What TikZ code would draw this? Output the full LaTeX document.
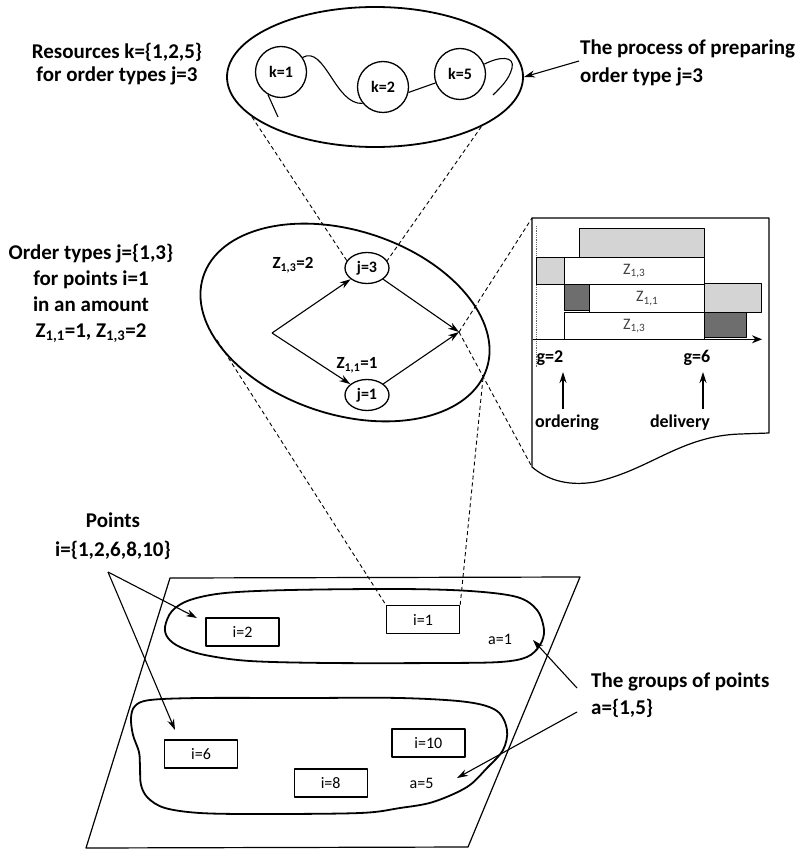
\documentclass[tikz,border=0pt]{standalone}
\usepackage{fontspec}
\setmainfont{Carlito}
\usetikzlibrary{arrows.meta,shapes.geometric}
\definecolor{lg}{HTML}{D4D4D4}
\definecolor{dg}{HTML}{6E6E6E}
\begin{document}
\begin{tikzpicture}[x=1pt,y=-1pt, line join=round,
  bigtxt/.style={font=\bfseries\fontsize{21}{23}\selectfont, inner sep=0pt},
  ktxt/.style={font=\bfseries\fontsize{16}{18}\selectfont},
  knode/.style={draw, circle, line width=1.3pt, minimum size=51pt, inner sep=0pt, ktxt},
  jnode/.style={draw, ellipse, line width=1.3pt, minimum width=44pt, minimum height=31pt, inner sep=0pt, ktxt},
  ztxt/.style={font=\bfseries\fontsize{17}{19}\selectfont, inner sep=0pt},
  ctxt/.style={font=\bfseries\fontsize{18}{20}\selectfont, inner sep=0pt},
  pbox/.style={draw, line width=1.4pt, minimum width=73pt, minimum height=28pt, inner sep=0pt, font=\fontsize{16}{18}\selectfont},
  atxt/.style={font=\fontsize{16}{18}\selectfont, inner sep=0pt},
  bar/.style={draw, line width=1.1pt, inner sep=0pt, anchor=north west, font=\fontsize{16}{18}\selectfont, text=black!75},
  thinl/.style={line width=1.1pt},
  blob/.style={line width=1.8pt},
  dsh/.style={line width=0.9pt, dash pattern=on 4pt off 3pt},
  arr/.style={line width=1.1pt, -{Stealth[length=11pt,width=7pt]}}]
\useasboundingbox (0,0) rectangle (806,850);

% ---------- top: resources ----------
\node[draw, ellipse, line width=1.8pt, minimum width=296pt, minimum height=140pt, inner sep=0pt] (top) at (375,77) {};
\node[knode] (k1) at (281,72) {k=1};
\node[knode] (k2) at (383,87) {k=2};
\node[knode] (k5) at (460,74) {k=5};
\coordinate (kend1) at (278,117);
\coordinate (kend5) at (493,95);
\draw[thinl] (k1.-120) -- (kend1);
\draw[thinl] (k1.34) .. controls (325,45) and (335,105) .. (k2.-141);
\draw[thinl] (k2.-12) -- (k5.-160);
\draw[thinl] (k5.22) .. controls (500,56) and (515,56) .. (512,68) .. controls (509,80) and (500,88) .. (kend5);

\node[bigtxt, align=center] (res) at (117,64) {Resources k=\{1,2,5\}\\for order types j=3};
\node[bigtxt, align=left, anchor=west, font=\bfseries\fontsize{21}{28}\selectfont] (proc) at (580,63) {The process of preparing\\order type j=3};
\coordinate (procA) at (579,61);
\draw[arr] (procA) -- (top.east);

% ---------- middle: order types ----------
\node[draw, ellipse, line width=1.8pt, minimum width=298pt, minimum height=184pt, inner sep=0pt, rotate=-18] (mid) at (345,322.5) {};
\node[jnode] (j3) at (367,268) {j=3};
\node[jnode] (j1) at (367,395) {j=1};
\coordinate (fork) at (272,333);
\coordinate (merge) at (459,332);
\draw[arr] (fork) -- (j3);
\draw[arr] (fork) -- (j1);
\draw[arr] (j3) -- (merge);
\draw[arr] (j1) -- (merge);
\node[ztxt] (z13) at (293,265) {Z\textsubscript{1,3}=2};
\node[ztxt] (z11) at (357,365) {Z\textsubscript{1,1}=1};

\node[bigtxt, align=center, font=\bfseries\fontsize{21}{26}\selectfont] (ord) at (91,293) {Order types j=\{1,3\}\\for points i=1\\in an amount\\Z\textsubscript{1,1}=1, Z\textsubscript{1,3}=2};

% dashed links top -> j3
\draw[dsh] (top.198) -- (j3.160);
\draw[dsh] (top.-25) -- (j3.20);

% ---------- chart ----------
\coordinate (cTL) at (532,218);
\coordinate (cTR) at (769,218);
\coordinate (cBR) at (769,433);
\coordinate (cBL) at (532,467);
\draw[line width=1.2pt] (cTL) -- (cTR) -- (cBR) -- (740,434) .. controls (680,436) and (650,470) .. (595,482) .. controls (565,487) and (545,478) .. (cBL) -- cycle;
\draw[dsh] (merge) -- (cTL);
\draw[dsh] (merge) -- (cBL);

\draw[densely dotted, line width=0.8pt, black!60] (536,226) -- (536,367);
\node[bar, fill=lg, minimum width=125.3pt, minimum height=28.2pt] (r1) at (578.7,228.3) {};
\node[bar, fill=lg, minimum width=27.5pt, minimum height=27.8pt] (r2a) at (536,256.5) {};
\node[bar, fill=white, minimum width=140.5pt, minimum height=27.8pt] (r2b) at (563.5,256.5) {Z\textsubscript{1,3}};
\node[bar, fill=dg, minimum width=25.8pt, minimum height=25.7pt] (r3a) at (563.5,284.3) {};
\node[bar, fill=white, minimum width=114.7pt, minimum height=27.2pt] (r3b) at (589.3,284.3) {Z\textsubscript{1,1}};
\node[bar, fill=lg, minimum width=56.7pt, minimum height=28.2pt] (r3c) at (704,283.3) {};
\node[bar, fill=white, minimum width=140.5pt, minimum height=27.8pt] (r4a) at (563.5,311.5) {Z\textsubscript{1,3}};
\node[bar, fill=dg, minimum width=41.7pt, minimum height=25.5pt] (r4b) at (704,311.5) {};
\coordinate (ax0) at (533,339.3);
\coordinate (ax1) at (762,339.3);
\draw[line width=1.3pt, -{Stealth[length=10pt,width=8pt]}] (ax0) -- (ax1);

\node[ctxt] (g2) at (550,358) {g=2};
\node[ctxt] (g6) at (697,358) {g=6};
\node[ctxt] (ordl) at (567,423) {ordering};
\node[ctxt] (dell) at (680,423) {delivery};
\coordinate (oa) at (563,409);
\coordinate (ob) at (563,372);
\coordinate (da) at (703,409);
\coordinate (db) at (703,372);
\draw[arr] (oa) -- (ob);
\draw[arr] (da) -- (db);

% ---------- bottom: points ----------
\coordinate (pTL) at (170,578);
\coordinate (pTR) at (580,577);
\coordinate (pBR) at (468,847);
\coordinate (pBL) at (86,848);
\draw[line width=1.2pt] (pTL) -- (pTR) -- (pBR) -- (pBL) -- cycle;

\draw[blob] plot[smooth cycle, tension=0.55] coordinates {(165,627) (172,611) (190,600) (225,593) (290,590) (400,589) (470,591) (517,597) (537,610) (544,630) (540,645) (527,657) (500,662) (440,663) (330,663) (250,661) (205,655) (180,647) (168,638)};
\draw[blob] plot[smooth cycle, tension=0.55] coordinates {(135,706) (150,700) (200,698) (300,698) (400,698) (467,702) (497,711) (507,730) (503,750) (487,768) (467,787) (433,802) (400,808) (360,813) (260,814) (200,813) (165,808) (148,798) (141,785) (140,767) (139,752) (133,735) (131,718)};

\node[pbox] (i2) at (242.5,632) {i=2};
\node[pbox] (i1) at (423,619.5) {i=1};
\node[pbox] (i6) at (201,754) {i=6};
\node[pbox] (i8) at (330.7,783) {i=8};
\node[pbox] (i10) at (428.3,743) {i=10};
\node[atxt] (a1) at (500,639) {a=1};
\node[atxt] (a5) at (421.5,783) {a=5};

\coordinate (mL) at (217,340);
\coordinate (mR) at (483,378);
\draw[dsh] (mL) -- (i1.north west);
\draw[dsh] (mR) -- (i1.north east);

\node[bigtxt, align=center, font=\bfseries\fontsize{21}{29}\selectfont] (pts) at (113,536) {Points\\i=\{1,2,6,8,10\}};
\coordinate (pts0) at (108,572);
\coordinate (pA) at (197,618);
\coordinate (pB) at (175,730);
\draw[arr] (pts0) -- (pA);
\draw[arr] (pts0) -- (pB);

\node[bigtxt, align=left, anchor=west, font=\bfseries\fontsize{21}{27}\selectfont] (grp) at (591,695) {The groups of points\\a=\{1,5\}};
\coordinate (gA) at (577,688);
\coordinate (gB) at (577,712);
\coordinate (gA1) at (533,640);
\coordinate (gB1) at (457,778);
\draw[arr] (gA) -- (gA1);
\draw[arr] (gB) -- (gB1);
\end{tikzpicture}
\end{document}
